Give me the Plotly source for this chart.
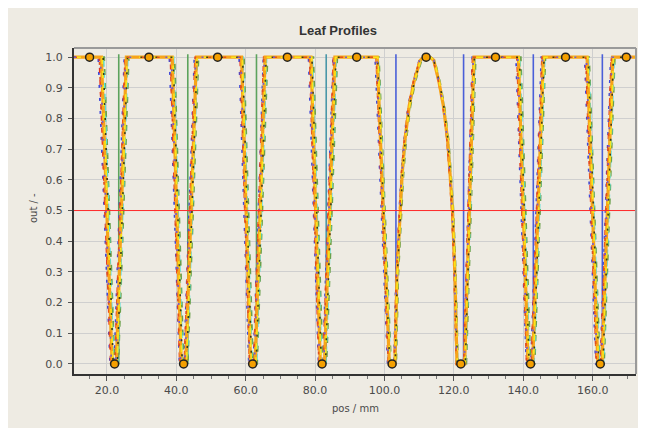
import plotly.graph_objects as go

# ---------------- data ----------------
# shared output profile (y) for every leaf
y_profile = [1.0,
             1.0, 0.0, 0.0, 1.0,
             1.0, 0.0, 0.0, 1.0,
             1.0, 0.0, 0.0, 1.0,
             1.0, 0.0, 0.0, 1.0,
             1.0, 0.0, 0.0, 0.29, 0.50, 0.62, 0.73, 0.84, 0.92, 0.99, 1.0, 1.0, 0.99, 0.92, 0.84, 0.73, 0.62, 0.50, 0.29, 0.0, 0.0, 1.0,
             1.0, 0.0, 0.0, 1.0,
             1.0, 0.0, 0.0, 1.0,
             1.0]

x_main = [10.5,
          18.4, 21.5, 22.7, 25.6,
          38.8, 41.4, 42.7, 45.8,
          58.8, 61.4, 62.7, 65.6,
          78.8, 81.5, 82.7, 85.7,
          97.9, 101.4, 103.0, 103.6, 104.5, 105.1, 105.9, 107.1, 108.5, 110.3, 111.3, 113.0, 114.2, 115.7, 117.0, 118.2, 118.9, 119.6, 120.3, 120.9, 123.1, 125.8,
          138.6, 141.4, 142.7, 145.8,
          158.4, 161.5, 162.7, 165.8,
          172.5]

x_red = [10.5,
         17.8, 21.1, 22.3, 25.2,
         38.3, 41.0, 42.3, 45.4,
         58.4, 61.1, 62.3, 65.2,
         78.4, 81.1, 82.3, 85.3,
         97.6, 101.1, 102.8, 103.4, 104.3, 104.9, 105.7, 106.9, 108.3, 110.1, 111.1, 113.0, 114.1, 115.6, 116.9, 118.0, 118.7, 119.4, 120.1, 120.7, 122.8, 125.4,
         138.2, 141.0, 142.3, 145.4,
         158.0, 161.1, 162.3, 165.4,
         172.5]

x_blue = [10.5,
          17.5, 20.9, 22.1, 25.0,
          38.0, 40.9, 42.2, 45.2,
          58.1, 60.9, 62.2, 65.1,
          78.1, 81.0, 82.2, 85.2,
          97.3, 100.9, 102.7, 103.3, 104.2, 104.8, 105.6, 106.8, 108.2, 110.0, 111.1, 113.1, 114.3, 115.8, 117.1, 118.2, 118.8, 119.5, 120.2, 120.8, 122.9, 125.3,
          137.9, 140.9, 142.2, 145.2,
          157.7, 160.9, 162.2, 165.2,
          172.5]

x_purple = [10.5,
            18.1, 21.3, 22.5, 25.4,
            38.6, 41.2, 42.5, 45.6,
            58.6, 61.2, 62.5, 65.4,
            78.6, 81.3, 82.5, 85.5,
            97.8, 101.2, 102.9, 103.5, 104.4, 105.0, 105.8, 107.0, 108.4, 110.2, 111.2, 113.1, 114.2, 115.7, 117.0, 118.1, 118.8, 119.5, 120.2, 120.8, 123.0, 125.6,
            138.4, 141.2, 142.5, 145.6,
            158.2, 161.3, 162.5, 165.6,
            172.5]

x_cyan = [10.5,
          19.0, 21.9, 23.1, 26.0,
          39.2, 41.8, 43.1, 46.1,
          59.2, 61.8, 63.1, 66.0,
          79.2, 81.9, 83.1, 86.1,
          98.2, 101.7, 103.2, 103.8, 104.7, 105.3, 106.1, 107.3, 108.7, 110.5, 111.5, 113.2, 114.4, 115.9, 117.2, 118.4, 119.1, 119.8, 120.5, 121.1, 123.4, 126.1,
          139.0, 141.8, 143.1, 146.2,
          158.8, 161.9, 163.1, 166.2,
          172.5]

x_yellow = [10.5,
            18.6, 21.7, 22.9, 25.8,
            39.0, 41.6, 42.9, 46.0,
            59.0, 61.6, 62.9, 65.8,
            79.0, 81.7, 82.9, 85.9,
            98.1, 101.6, 103.1, 103.7, 104.6, 105.2, 106.0, 107.2, 108.6, 110.4, 111.4, 113.2, 114.3, 115.8, 117.1, 118.3, 119.0, 119.7, 120.4, 121.0, 123.2, 125.9,
            138.8, 141.6, 142.9, 146.0,
            158.6, 161.7, 162.9, 166.0,
            172.5]

x_green = [10.5,
           19.2, 22.2, 23.3, 26.3,
           39.5, 42.1, 43.3, 46.4,
           59.5, 62.1, 63.3, 66.3,
           79.5, 82.2, 83.3, 86.4,
           98.4, 101.9, 103.4, 104.0, 104.9, 105.5, 106.3, 107.5, 108.9, 110.7, 111.7, 113.4, 114.5, 116.0, 117.3, 118.5, 119.2, 119.9, 120.6, 121.2, 123.6, 126.3,
           139.3, 142.1, 143.3, 146.4,
           159.0, 162.1, 163.3, 166.4,
           172.5]

x_black = [10.5,
           18.9, 21.8, 23.0, 25.9,
           39.1, 41.7, 43.0, 46.0,
           59.1, 61.7, 63.0, 65.9,
           79.1, 81.8, 83.0, 86.0,
           98.0, 101.5, 103.1, 103.7, 104.6, 105.2, 106.0, 107.2, 108.6, 110.4, 111.4, 113.1, 114.2, 115.8, 117.1, 118.3, 119.0, 119.7, 120.4, 121.0, 123.3, 125.9,
           138.9, 141.7, 143.0, 146.0,
           158.7, 161.8, 163.0, 166.0,
           172.5]

marker_top_x = [15.0, 32.1, 51.9, 72.0, 92.0, 112.0, 132.0, 152.2, 169.7]
marker_top_y = [1.0] * len(marker_top_x)
marker_bot_x = [22.2, 42.1, 62.0, 82.0, 102.2, 122.0, 142.1, 162.2]
marker_bot_y = [0.0] * len(marker_bot_x)

ref_line_x = [23.4, 43.3, 63.1, 83.2, 103.3, 122.8, 142.9, 162.8]
ref_line_colors = ["#5da35d", "#5da35d", "#5da35d", "#4a97a8",
                   "#4a5fd8", "#4a5fd8", "#4a5fd8", "#4a5fd8"]

threshold = 0.5

# ---------------- figure ----------------
BG = "#eeebe3"
fig = go.Figure()

# vertical reference lines
for xv, col in zip(ref_line_x, ref_line_colors):
    fig.add_trace(go.Scatter(x=[xv, xv], y=[0.0, 1.01], mode="lines",
                             line=dict(color=col, width=1.6),
                             hoverinfo="skip", showlegend=False))

under = [(x_blue, "#4048d8", "3px,10px"), (x_red, "#e8301a", "5px,7px"),
         (x_purple, "#8a5fc0", "3px,9px"), (x_green, "#6aa04a", "6px,8px"),
         (x_cyan, "#55e0d8", "6px,5px")]
for xs, col, dash in under:
    fig.add_trace(go.Scatter(x=xs, y=y_profile, mode="lines",
                             line=dict(color=col, width=1.8, dash=dash),
                             hoverinfo="skip", showlegend=False))

fig.add_trace(go.Scatter(x=x_main, y=y_profile, mode="lines",
                         line=dict(color="#f7a419", width=3.2),
                         showlegend=False))

over = [(x_yellow, "#f8e61a", "7px,7px"), (x_black, "#3a3a18", "2px,13px"),
        (x_red, "#e0501e", "3px,12px"), (x_purple, "#7a58c8", "2px,16px")]
for xs, col, dash in over:
    fig.add_trace(go.Scatter(x=xs, y=y_profile, mode="lines",
                             line=dict(color=col, width=1.6, dash=dash),
                             hoverinfo="skip", showlegend=False))

fig.add_trace(go.Scatter(x=marker_top_x + marker_bot_x,
                         y=marker_top_y + marker_bot_y, mode="markers",
                         marker=dict(color="#f5a000", size=8,
                                     line=dict(color="#222222", width=1.5)),
                         showlegend=False))

tickfont = dict(family="DejaVu Sans", size=11, color="#4a4a4a")
W, H = 638, 420   # page body has an 8px margin
fig.update_layout(
    width=W, height=H,
    margin=dict(l=66, r=10, t=40, b=54),
    paper_bgcolor=BG, plot_bgcolor=BG,
    title=dict(text="<b>Leaf Profiles</b>", x=330 / W, xref="container",
               xanchor="center", y=1 - 22 / H, yanchor="middle",
               font=dict(family="Liberation Sans", size=13, color="#333333")),
    xaxis=dict(range=[10.5, 172.5], tick0=0, dtick=20, tickformat=".1f",
               showgrid=True, gridcolor="#cfcfcf", gridwidth=1,
               zeroline=False, showline=True, linecolor="#333333", linewidth=2,
               ticks="outside", ticklen=5, tickcolor="#555555",
               minor=dict(dtick=5, ticks="outside", ticklen=3, tickcolor="#777777", showgrid=False),
               tickfont=tickfont),
    yaxis=dict(range=[-0.033, 1.03], tick0=0, dtick=0.1, tickformat=".1f",
               showgrid=True, gridcolor="#cfcfcf", gridwidth=1,
               zeroline=False, showline=True, linecolor="#333333", linewidth=2,
               ticks="outside", ticklen=4, tickcolor="#555555",
               ticklabelstandoff=3, tickfont=tickfont),
    shapes=[
        dict(type="line", xref="paper", yref="y", x0=0, x1=1, y0=threshold, y1=threshold,
             line=dict(color="#ff2a2a", width=1)),
        dict(type="line", xref="paper", yref="paper", x0=0, x1=1, y0=1, y1=1,
             line=dict(color="#9a9a9a", width=2)),
        dict(type="line", xref="paper", yref="paper", x0=1, x1=1, y0=0, y1=1,
             line=dict(color="#9a9a9a", width=2)),
    ],
    annotations=[
        dict(text="out / -", xref="paper", yref="paper", x=(33 - 74) / 562, y=(374 - 208) / 326,
             textangle=-90, showarrow=False, xanchor="center", yanchor="middle",
             font=dict(family="DejaVu Sans", size=10, color="#4a4a4a")),
        dict(text="pos / mm", xref="paper", yref="paper", x=(355 - 74) / 562, y=(374 - 408) / 326,
             showarrow=False, xanchor="center", yanchor="middle",
             font=dict(family="DejaVu Sans", size=10, color="#4a4a4a")),
    ],
)

fig.write_html("out.html")
